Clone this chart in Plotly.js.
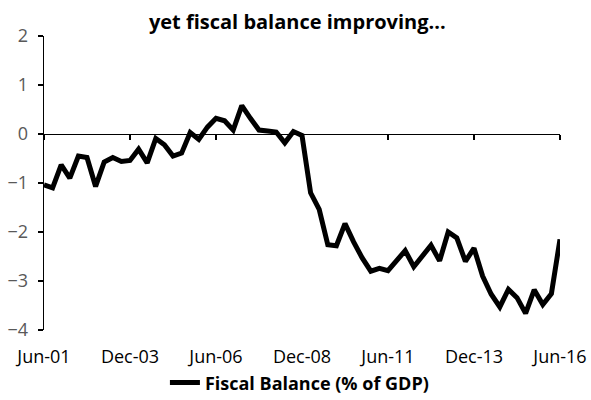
<!DOCTYPE html>
<html>
<head>
<meta charset="utf-8">
<script src="https://cdn.plot.ly/plotly-3.0.1.min.js"></script>
<style>html,body{margin:0;padding:0;background:#fff;}#chart{width:591px;height:400px;}</style>
</head>
<body>
<div id="chart"></div>
<script>
const quarters = [
  "Jun-01","Sep-01","Dec-01","Mar-02","Jun-02","Sep-02","Dec-02","Mar-03","Jun-03","Sep-03",
  "Dec-03","Mar-04","Jun-04","Sep-04","Dec-04","Mar-05","Jun-05","Sep-05","Dec-05","Mar-06",
  "Jun-06","Sep-06","Dec-06","Mar-07","Jun-07","Sep-07","Dec-07","Mar-08","Jun-08","Sep-08",
  "Dec-08","Mar-09","Jun-09","Sep-09","Dec-09","Mar-10","Jun-10","Sep-10","Dec-10","Mar-11",
  "Jun-11","Sep-11","Dec-11","Mar-12","Jun-12","Sep-12","Dec-12","Mar-13","Jun-13","Sep-13",
  "Dec-13","Mar-14","Jun-14","Sep-14","Dec-14","Mar-15","Jun-15","Sep-15","Dec-15","Mar-16",
  "Jun-16"
];
const fiscalBalance = [
  -1.04,-1.10,-0.63,-0.90,-0.45,-0.48,-1.07,-0.57,-0.48,-0.56,
  -0.54,-0.31,-0.59,-0.09,-0.22,-0.45,-0.39,0.03,-0.11,0.14,
  0.32,0.27,0.08,0.58,0.32,0.08,0.06,0.04,-0.18,0.05,
  -0.03,-1.20,-1.54,-2.26,-2.28,-1.83,-2.20,-2.53,-2.80,-2.74,
  -2.79,-2.58,-2.38,-2.71,-2.50,-2.27,-2.59,-2.00,-2.12,-2.60,
  -2.33,-2.90,-3.27,-3.53,-3.17,-3.34,-3.66,-3.18,-3.48,-3.26,
  -2.15
];
const xTickLabels = ["Jun-01","Dec-03","Jun-06","Dec-08","Jun-11","Dec-13","Jun-16"];
const yTicks = [-4,-3,-2,-1,0,1,2];
const seriesName = "Fiscal Balance (% of GDP)";
const chartTitle = "yet fiscal balance improving...";

const FONT = "'Open Sans', Lato, 'Liberation Sans', sans-serif";
const tickIdx = xTickLabels.map(l => quarters.indexOf(l));

const traces = [
  {
    x: quarters, y: fiscalBalance, type: "scatter", mode: "lines",
    name: seriesName, line: {color: "#000000", width: 5},
    xaxis: "x", yaxis: "y", hoverinfo: "x+y"
  },
  {
    x: [0, quarters.length - 1], y: [null, null], type: "scatter", mode: "lines",
    xaxis: "x2", yaxis: "y", showlegend: false, hoverinfo: "skip"
  }
];

const layout = {
  width: 591, height: 400,
  margin: {l: 44, r: 31, t: 36, b: 70, autoexpand: false},
  paper_bgcolor: "#ffffff", plot_bgcolor: "#ffffff",
  font: {family: FONT, size: 18, color: "#595959"},
  title: {
    text: chartTitle, x: 0.503, xanchor: "center", y: 0.945, yanchor: "middle",
    xref: "container", yref: "container",
    font: {family: FONT, size: 20, color: "#000000", weight: "bold"}
  },
  showlegend: true,
  legend: {
    orientation: "h", x: 0.495, xanchor: "center", y: -0.18, yanchor: "middle",
    font: {family: FONT, size: 18, color: "#000000", weight: "bold"},
    bgcolor: "rgba(0,0,0,0)"
  },
  xaxis: {
    type: "category", range: [0, quarters.length - 1], automargin: false,
    tickmode: "array", tickvals: xTickLabels, ticktext: xTickLabels,
    showline: false, showgrid: false, zeroline: false, ticks: "",
    ticklabelstandoff: 14, tickangle: 0,
    tickfont: {family: FONT, size: 18, color: "#000000"}
  },
  xaxis2: {
    type: "linear", range: [0, quarters.length - 1], overlaying: "x",
    anchor: "free", position: 4 / 6, automargin: false,
    tickmode: "array", tickvals: tickIdx,
    showticklabels: false, showline: true, linecolor: "#000000", linewidth: 1.3,
    ticks: "outside", ticklen: 5, tickwidth: 1.3, tickcolor: "#000000",
    showgrid: false, zeroline: false
  },
  yaxis: {
    range: [-4, 2], tickmode: "array", tickvals: yTicks, automargin: false,
    showline: true, linecolor: "#000000", linewidth: 1.3,
    ticks: "outside", ticklen: 5, tickwidth: 1.3, tickcolor: "#000000",
    ticklabelstandoff: 6,
    showgrid: false, zeroline: false,
    tickfont: {family: FONT, size: 18, color: "#595959"}
  }
};

Plotly.newPlot("chart", traces, layout, {displayModeBar: false, staticPlot: true});
</script>
</body>
</html>
